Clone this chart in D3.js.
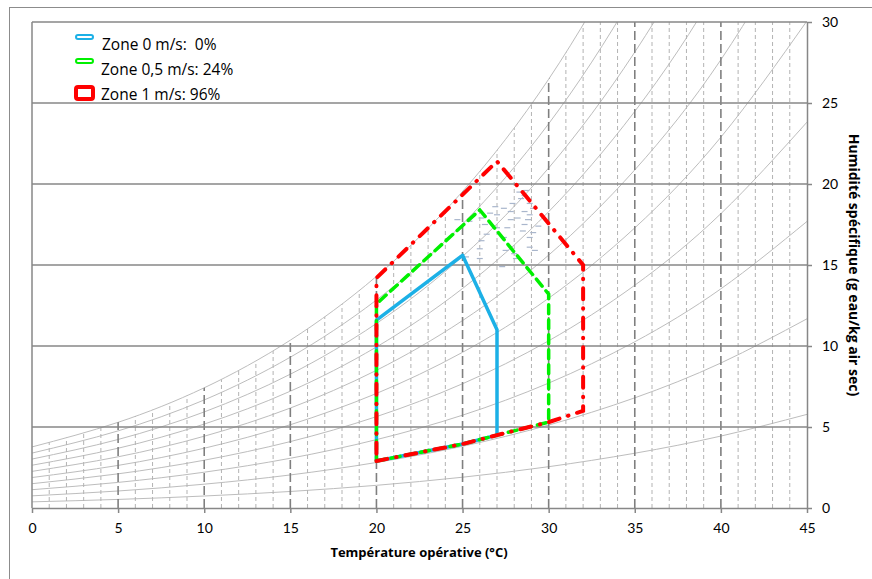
<!DOCTYPE html>
<html>
<head>
<meta charset="utf-8">
<script src="https://cdn.jsdelivr.net/npm/d3@7"></script>
<style>
  body { margin: 0; background: #fff; }
  text { font-family: "Open Sans", Lato, sans-serif; fill: #000; }
</style>
</head>
<body>
<div id="chart"></div>
<script>
"use strict";

// temperatures where the humidity curves were read (°C)
var temps = [0, 5, 10, 15, 20, 25, 30, 35, 40, 45];

// humidity curves, g eau/kg air sec (10 % .. 100 %)
var hr10 = [0.38, 0.53, 0.74, 1.02, 1.40, 1.90, 2.55, 3.38, 4.44, 5.78];
var hr20 = [0.75, 1.05, 1.47, 2.04, 2.81, 3.81, 5.12, 6.80, 8.95, 11.68];
var hr30 = [1.13, 1.58, 2.21, 3.07, 4.22, 5.73, 7.71, 10.26, 13.53, 17.69];
var hr40 = [1.50, 2.11, 2.95, 4.10, 5.64, 7.67, 10.32, 13.75, 18.17, 23.82];
var hr50 = [1.88, 2.63, 3.69, 5.14, 7.07, 9.61, 12.95, 17.29, 22.89, 30.07];
var hr60 = [2.26, 3.16, 4.43, 6.17, 8.50, 11.57, 15.61, 20.87, 27.67, 36.45];
var hr70 = [2.64, 3.69, 5.18, 7.21, 9.94, 13.55, 18.29, 24.48, 32.53, 42.95];
var hr80 = [3.02, 4.23, 5.93, 8.26, 11.39, 15.53, 20.99, 28.14, 37.47, 49.59];
var hr90 = [3.39, 4.76, 6.67, 9.31, 12.84, 17.53, 23.72, 31.85, 42.48, 56.37];
var hr100 = [3.77, 5.29, 7.42, 10.36, 14.30, 19.54, 26.47, 35.59, 47.57, 63.29];
var hrCurves = [hr10, hr20, hr30, hr40, hr50, hr60, hr70, hr80, hr90, hr100];

// comfort zones [temperature, humidity]
var zone0 = [[20, 2.9], [25, 3.95], [27, 4.5], [27, 11], [25, 15.6], [20, 11.6], [20, 2.9]];
var zone05 = [[20, 2.9], [25, 3.95], [27, 4.5], [30, 5.3], [30, 13.2], [26, 18.4], [20, 12.6], [20, 2.9]];
var zone1 = [[20, 2.9], [25, 3.95], [27, 4.5], [30, 5.3], [32, 6], [32, 15], [27, 21.4], [20, 14.2], [20, 2.9]];

// measured points (faint marks)
var mesures = [[28.3, 19.5], [28.7, 19.6], [28.6, 19.3], [28.4, 19.1], [27.9, 18.8], [28.9, 18.8],
  [29.1, 18.5], [26.9, 18.6], [27.4, 18.5], [27.8, 18.3], [26.6, 18.2], [27.0, 18.1], [28.6, 18.3],
  [28.9, 18.1], [26.1, 17.9], [27.8, 17.8], [28.2, 17.9], [28.8, 17.8], [24.7, 17.8], [25.4, 17.7],
  [26.3, 17.5], [28.6, 17.5], [29.4, 17.4], [27.0, 17.3], [27.6, 17.3], [28.5, 17.1], [29.1, 17.0],
  [26.4, 16.9], [27.4, 16.7], [28.9, 16.7], [26.1, 16.5], [26.0, 16.0], [28.9, 16.1], [29.2, 15.9],
  [27.5, 15.9], [28.0, 15.7], [28.1, 15.4], [25.2, 15.5], [26.0, 15.4], [27.3, 14.9]];

var legendLabels = ["Zone 0 m/s:  0%", "Zone 0,5 m/s: 24%", "Zone 1 m/s: 96%"];
var xTicks = [0, 5, 10, 15, 20, 25, 30, 35, 40, 45];
var yTicks = [0, 5, 10, 15, 20, 25, 30];

var svgWidth = 872, svgHeight = 579;
var plotLeft = 32, plotRight = 807, plotTop = 22, plotBottom = 508;

var svg = d3.select("#chart").append("svg")
        .attr("width", svgWidth)
        .attr("height", svgHeight);

// outer frame
svg.append("rect")
        .attr("x", 9.5).attr("y", 7.5)
        .attr("width", 900).attr("height", 600)
        .attr("fill", "none")
        .attr("stroke", "#8c8c8c");

var x = d3.scaleLinear().domain([0, 45]).range([plotLeft, plotRight]);
var y = d3.scaleLinear().domain([0, 30]).range([plotBottom, plotTop]);

var defs = svg.append("defs");
defs.append("clipPath").attr("id", "plotClip")
        .append("rect")
        .attr("x", plotLeft).attr("y", plotTop)
        .attr("width", plotRight - plotLeft).attr("height", plotBottom - plotTop);

// vertical grid stops at the saturation curve
var satArea = d3.area()
        .x(function (d, i) { return x(temps[i]); })
        .y0(y(0))
        .y1(function (d) { return y(d); })
        .curve(d3.curveNatural);
defs.append("clipPath").attr("id", "satClip")
        .append("path")
        .attr("d", satArea(hr100));

var plot = svg.append("g").attr("clip-path", "url(#plotClip)");

// humidity curves
var curveLine = d3.line()
        .x(function (d, i) { return x(temps[i]); })
        .y(function (d) { return y(d); })
        .curve(d3.curveNatural);
plot.selectAll(".hr")
        .data(hrCurves)
        .enter()
        .append("path")
        .attr("d", curveLine)
        .attr("fill", "none")
        .attr("stroke", "#bdbdbd")
        .attr("stroke-width", 1);

// vertical dashed grid, every degree
var vGrid = plot.append("g").attr("clip-path", "url(#satClip)");
vGrid.selectAll("line")
        .data(d3.range(1, 45))
        .enter()
        .append("line")
        .attr("x1", function (d) { return x(d); })
        .attr("x2", function (d) { return x(d); })
        .attr("y1", y(0))
        .attr("y2", y(30))
        .attr("stroke", function (d) { return d % 5 == 0 ? "#7f7f7f" : "#b3b3b3"; })
        .attr("stroke-width", function (d) { return d % 5 == 0 ? 1.6 : 1; })
        .attr("stroke-dasharray", function (d) { return d % 5 == 0 ? "9,4" : "4,3"; });

// horizontal grid
svg.selectAll(".hgrid")
        .data(yTicks.slice(1))
        .enter()
        .append("line")
        .attr("x1", plotLeft).attr("x2", plotRight)
        .attr("y1", function (d) { return y(d); })
        .attr("y2", function (d) { return y(d); })
        .attr("stroke", "#878787")
        .attr("stroke-width", 1.5);

// faint measure marks
plot.selectAll(".mes")
        .data(mesures)
        .enter()
        .append("line")
        .attr("x1", function (d) { return x(d[0]) - 3; })
        .attr("x2", function (d) { return x(d[0]) + 3; })
        .attr("y1", function (d) { return y(d[1]); })
        .attr("y2", function (d) { return y(d[1]); })
        .attr("stroke", "#a9b6cc")
        .attr("stroke-width", 1.2);

// axes
var xAxis = svg.append("g")
        .attr("transform", "translate(0," + plotBottom + ")")
        .call(d3.axisBottom(x).tickValues(xTicks).tickSize(5).tickSizeOuter(0).tickPadding(10));
var yAxis = svg.append("g")
        .attr("transform", "translate(" + plotRight + ",0)")
        .call(d3.axisRight(y).tickValues(yTicks).tickSize(5).tickSizeOuter(0).tickPadding(10));
[xAxis, yAxis].forEach(function (a) {
        a.select(".domain").attr("stroke", "#878787").attr("stroke-width", 1.5);
        a.selectAll(".tick line").attr("stroke", "#878787").attr("stroke-width", 1.5);
        a.selectAll("text").style("font-family", "Lato, sans-serif").style("font-size", "14px").attr("fill", "#000");
});
svg.append("line")
        .attr("x1", plotLeft).attr("x2", plotLeft)
        .attr("y1", plotTop).attr("y2", plotBottom)
        .attr("stroke", "#878787").attr("stroke-width", 1.5);

// axis titles
svg.append("text")
        .attr("x", 419).attr("y", 557)
        .attr("text-anchor", "middle")
        .style("font-size", "13px").style("font-weight", "bold")
        .text("Température opérative (°C)");
svg.append("text")
        .attr("transform", "translate(849,265)rotate(90)")
        .attr("text-anchor", "middle")
        .style("font-size", "14px").style("font-weight", "bold")
        .text("Humidité spécifique (g eau/kg air sec)");

// comfort zones
var zoneLine = d3.line()
        .x(function (d) { return x(d[0]); })
        .y(function (d) { return y(d[1]); });
svg.append("path").datum(zone0)
        .attr("d", zoneLine)
        .attr("fill", "none")
        .attr("stroke", "#1cb0e6")
        .attr("stroke-width", 3.5)
        .attr("stroke-linejoin", "round");
svg.append("path").datum(zone05)
        .attr("d", zoneLine)
        .attr("fill", "none")
        .attr("stroke", "#00f000")
        .attr("stroke-width", 3.5)
        .attr("stroke-dasharray", "9,6")
        .attr("stroke-linecap", "round");
svg.append("path").datum(zone1)
        .attr("d", zoneLine)
        .attr("fill", "none")
        .attr("stroke", "#ff0000")
        .attr("stroke-width", 4)
        .attr("stroke-dasharray", "11,9,0.5,9")
        .attr("stroke-linecap", "round");

// legend
var legendColors = ["#1cb0e6", "#00f000", "#ff0000"];
var legend = svg.append("g");
legend.selectAll("rect")
        .data(legendColors)
        .enter()
        .append("rect")
        .attr("x", 76)
        .attr("y", function (d, i) { return i == 2 ? 87 : 35 + i * 24; })
        .attr("width", 17)
        .attr("height", function (d, i) { return i == 2 ? 12 : 4; })
        .attr("rx", 2)
        .attr("fill", "#fff")
        .attr("stroke", function (d) { return d; })
        .attr("stroke-width", function (d, i) { return i == 2 ? 4 : 2; });
legend.selectAll("text")
        .data(legendLabels)
        .enter()
        .append("text")
        .attr("x", function (d, i) { return i == 0 ? 102 : 101; })
        .attr("y", function (d, i) { return 50 + i * 25; })
        .style("font-size", "15.5px")
        .style("white-space", "pre")
        .attr("xml:space", "preserve")
        .text(function (d) { return d; });
</script>
</body>
</html>
